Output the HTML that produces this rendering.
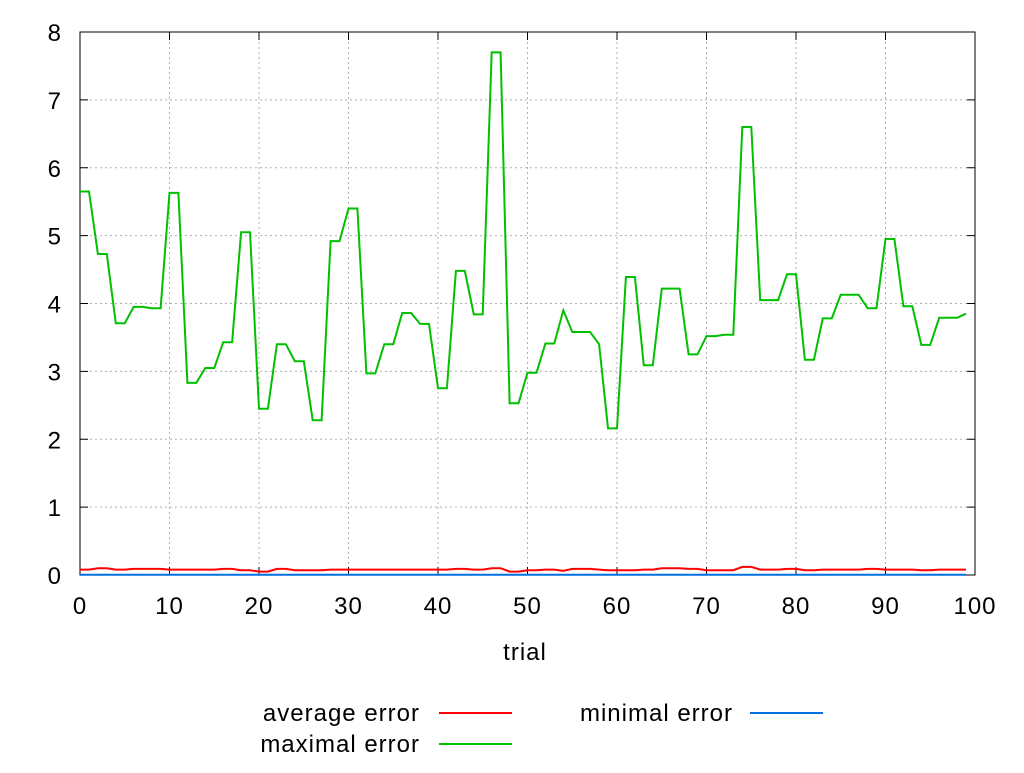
<!DOCTYPE html>
<html><head><meta charset="utf-8"><style>
body{margin:0;background:#fff;}
svg text{font-family:"Liberation Sans",sans-serif;font-size:24px;letter-spacing:1px;fill:#000;}
</style></head><body>
<svg id="chart" width="1024" height="768">
<g id="grid"></g>
<g id="ticks"></g>
<rect x="80" y="32" width="895" height="543" fill="none" stroke="#000" stroke-width="1"/>
<g id="series"></g>
<text x="525" y="660" text-anchor="middle">trial</text>
<g>
<text x="420" y="721" text-anchor="end">average error</text>
<line x1="439" y1="713" x2="512" y2="713" stroke="#ff0000" stroke-width="2"/>
<text x="733" y="721" text-anchor="end">minimal error</text>
<line x1="750" y1="713" x2="823" y2="713" stroke="#0070e0" stroke-width="2"/>
<text x="420" y="752" text-anchor="end">maximal error</text>
<line x1="439" y1="744" x2="512" y2="744" stroke="#00c000" stroke-width="2"/>
</g>
</svg>
<script>
const xTicks=[0,10,20,30,40,50,60,70,80,90,100];
const yTicks=[0,1,2,3,4,5,6,7,8];
const maxErr=[5.65,5.65,4.73,4.73,3.71,3.71,3.95,3.95,3.93,3.93,5.63,5.63,2.83,2.83,3.05,3.05,3.43,3.43,5.05,5.05,2.45,2.45,3.40,3.40,3.15,3.15,2.28,2.28,4.92,4.92,5.40,5.40,2.97,2.97,3.40,3.40,3.86,3.86,3.70,3.70,2.75,2.75,4.48,4.48,3.84,3.84,7.70,7.70,2.53,2.53,2.98,2.98,3.41,3.41,3.90,3.58,3.58,3.58,3.40,2.16,2.16,4.39,4.39,3.09,3.09,4.22,4.22,4.22,3.25,3.25,3.52,3.52,3.54,3.54,6.60,6.60,4.05,4.05,4.05,4.43,4.43,3.17,3.17,3.78,3.78,4.13,4.13,4.13,3.93,3.93,4.95,4.95,3.96,3.96,3.39,3.39,3.79,3.79,3.79,3.85];
const avgErr=[0.08,0.08,0.1,0.1,0.08,0.08,0.09,0.09,0.09,0.09,0.08,0.08,0.08,0.08,0.08,0.08,0.09,0.09,0.07,0.07,0.05,0.05,0.09,0.09,0.07,0.07,0.07,0.07,0.08,0.08,0.08,0.08,0.08,0.08,0.08,0.08,0.08,0.08,0.08,0.08,0.08,0.08,0.09,0.09,0.08,0.08,0.1,0.1,0.05,0.05,0.07,0.07,0.08,0.08,0.06,0.09,0.09,0.09,0.08,0.07,0.07,0.07,0.07,0.08,0.08,0.1,0.1,0.1,0.09,0.09,0.07,0.07,0.07,0.07,0.12,0.12,0.08,0.08,0.08,0.09,0.09,0.07,0.07,0.08,0.08,0.08,0.08,0.08,0.09,0.09,0.08,0.08,0.08,0.08,0.07,0.07,0.08,0.08,0.08,0.08];
const minErr=new Array(100).fill(0.005);
const NS="http://www.w3.org/2000/svg";
const X=v=>80+v*8.95, Y=v=>575-v*67.875;
const grid=document.getElementById('grid'),ticks=document.getElementById('ticks'),series=document.getElementById('series');
function mk(tag,attrs,parent){const e=document.createElementNS(NS,tag);for(const k in attrs)e.setAttribute(k,attrs[k]);parent.appendChild(e);return e;}
xTicks.forEach(t=>{
  if(t>0&&t<100){const g=mk('line',{x1:X(t),x2:X(t),y1:32,y2:575,stroke:'#b0b0b0','stroke-dasharray':'2,3'},grid);
  
  }
  const tk=mk('path',{d:`M${X(t)},575v-8M${X(t)},32v8`,stroke:'#000'},ticks);
  
  
  const l=mk('text',{x:X(t),y:614,'text-anchor':'middle'},ticks);l.textContent=t;
  
  
});
yTicks.forEach(t=>{
  if(t>0&&t<8){const g=mk('line',{x1:80,x2:975,y1:Y(t),y2:Y(t),stroke:'#b0b0b0','stroke-dasharray':'2,3'},grid);
  
  }
  const tk=mk('path',{d:`M80,${Y(t)}h8M975,${Y(t)}h-8`,stroke:'#000'},ticks);
  
  
  const l=mk('text',{x:62,y:Y(t)+9,'text-anchor':'end'},ticks);l.textContent=t;
  
  
});
function line(arr,color,name){
  const d=arr.map((v,i)=>(i?'L':'M')+X(i).toFixed(1)+','+Y(v).toFixed(1)).join('');
  const p=mk('path',{d:d,fill:'none',stroke:color,'stroke-width':2},series);
  
  
}
line(minErr,'#0070e0','minimal-error-line');
line(avgErr,'#ff0000','average-error-line');
line(maxErr,'#00c000','maximal-error-line');
</script>
</body></html>
